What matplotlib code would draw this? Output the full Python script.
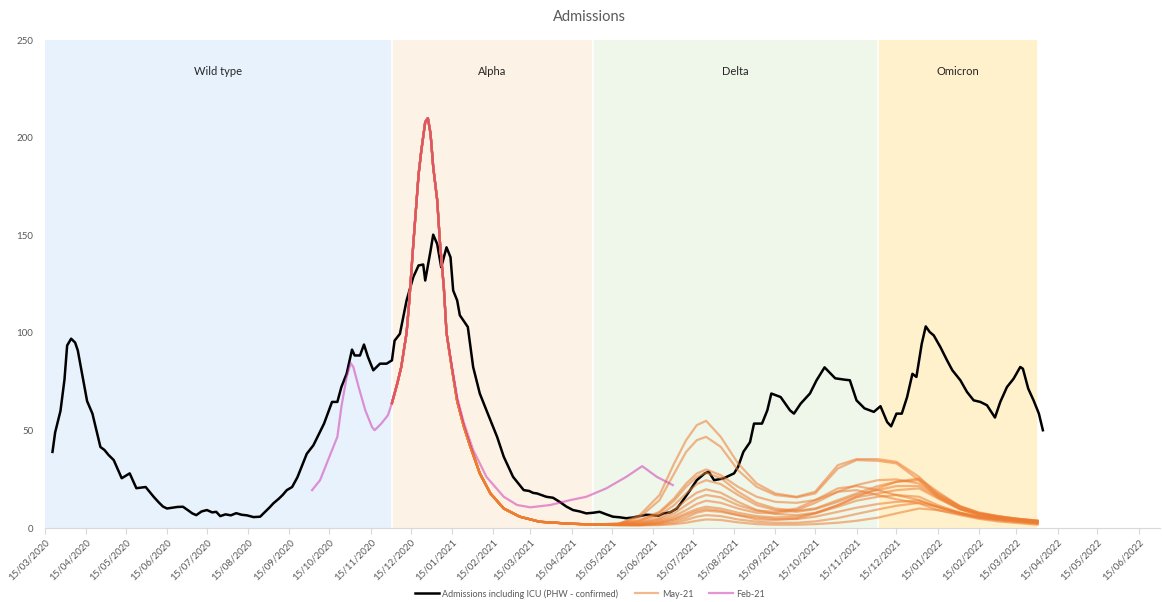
import numpy as np
import pandas as pd
import matplotlib
matplotlib.use('Agg')
import matplotlib.pyplot as plt
from matplotlib.lines import Line2D

plt.rcParams['font.family'] = ['Lato', 'DejaVu Sans']

START = pd.Timestamp('2020-03-15')

# Admissions including ICU (PHW - confirmed), days since 15/03/2020
ADM_DAY = [6, 8, 12, 15, 17, 20, 23, 25, 32, 36, 42, 45, 48, 52, 58, 64, 69, 76, 82, 86, 89, 92,
           97, 100, 104, 108, 111, 114, 118, 122, 126, 129, 132, 136, 140, 144, 148, 152, 157,
           162, 166, 169, 172, 176, 179, 182, 186, 190, 197, 202, 210, 216, 220, 223, 227, 231,
           233, 237, 240, 243, 247, 252, 257, 261, 263, 267, 270, 272, 277, 281, 284.5, 286, 290,
           292, 295, 298, 302, 305, 307, 310, 312, 318, 322, 327, 332, 340, 345, 352, 360, 364,
           367, 370, 377, 382, 387, 392, 397, 402, 407, 412, 417, 422, 427, 432, 437, 442, 447,
           452, 457, 461, 465, 470, 475, 478, 485, 490, 496, 499, 503, 510, 518, 521, 525, 530,
           533, 539, 543, 546, 553, 560, 563, 568, 575, 580, 586, 594, 601, 605, 610, 616, 623,
           628, 633, 636, 640, 644, 648, 652, 655, 659, 662, 665, 668, 673, 678, 682, 688, 693,
           698, 703, 708, 714, 718, 723, 728, 733, 735, 739, 743, 747, 750]
ADM_VAL = [39, 49, 60, 76, 93.5, 97, 95, 91, 65, 58.6, 41.5, 40, 37.5, 34.8, 25.5, 28, 20.4, 21,
           16, 13, 11, 10, 10.5, 10.8, 10.9, 9, 7.5, 6.6, 8.5, 9.2, 8, 8.3, 6.1, 7, 6.5, 7.6,
           6.8, 6.5, 5.6, 5.8, 8.5, 10.5, 12.7, 15, 17, 19.4, 21, 26, 38, 42.4, 53.5, 64.6, 64.6,
           72.2, 79.1, 91.4, 88.4, 88.4, 94, 87.6, 80.8, 84.2, 84.2, 85.9, 96, 99.5, 109.8,
           116.6, 128.5, 134.5, 135, 126.8, 142, 150.3, 145.5, 133.6, 143.8, 138.7, 121.7, 116.6,
           109, 103, 82.5, 68.9, 60.3, 46.7, 36.5, 26.2, 19.4, 19, 18, 17.7, 16, 15.5, 13.4, 11,
           9.2, 8.5, 7.5, 7.8, 8.3, 7, 5.8, 5.5, 5, 5.4, 6.1, 6.8, 6.6, 6.2, 7.5, 8, 10, 12.6,
           19.4, 24.5, 28, 28.8, 24.5, 25.4, 28, 31.3, 39, 44, 53.5, 53.5, 60.3, 68.9, 67.1,
           60.3, 58.6, 63.7, 68.9, 75.7, 82.3, 76.7, 76, 75.7, 65.4, 61.3, 59.5, 62.4, 54.3,
           52.1, 58.6, 58.6, 67.1, 79, 77.4, 94.4, 103.3, 100.4, 98.7, 92.7, 85.9, 80.8, 75.7,
           69.7, 65.4, 64.6, 62.9, 56.6, 64.6, 72.2, 76.5, 82.5, 81.6, 71.4, 65.4, 58.6, 50.1]

# Feb-21 projection
FEB_DAY = [201, 207, 214, 220, 223, 227, 230, 232, 236, 241, 246, 248, 253, 258, 261, 265, 268,
           272, 274, 277, 281, 283, 286, 288, 290, 292, 295, 297, 300, 302, 306, 310, 315, 322,
           332, 345, 355, 365, 380, 395, 407, 422, 437, 449, 460, 472]
FEB_VAL = [19.4, 24.5, 36.5, 46.7, 62, 77.4, 84.5, 82.5, 72.2, 60.3, 51.8, 50.1, 53.5, 57.8,
           64, 74, 82.5, 100, 116, 145, 181, 193, 208, 210, 202, 185, 168, 147, 123, 100, 83,
           67, 54, 40, 26.2, 16, 11.8, 10.6, 11.8, 14.3, 16, 20.3, 26.2, 31.7, 26.2, 22]

# May-21 projections: common fitted section, then one run per scenario
MAY_FIT_DAY = [261, 265, 268, 272, 274, 277, 281, 283, 286, 288, 290, 292, 295, 297, 300, 302,
               306, 310, 315, 320, 327, 335, 345, 357, 372, 395]
MAY_FIT_VAL = [64, 74, 82.5, 100, 116, 145, 181, 193, 208, 210, 202, 185, 168, 147, 123, 100,
               82, 65, 52, 41.5, 28, 17.7, 10, 5.8, 3.2, 2.2]
MAY_RUN_DAY = [412, 431, 447, 462, 473, 482, 490, 497, 508, 521, 535, 549, 565, 579, 596, 610,
               626, 640, 657, 671, 688, 702, 716, 730, 746]
MAY_RUNS = [
    [1.8, 2.0, 6.5, 16.9, 33.1, 45.0, 52.7, 54.9, 46.7, 33.1, 22.8, 17.7, 16.0, 18.6, 32.2, 35.3, 35.3, 33.9, 26.2, 16.9, 10.0, 7.0, 5.6, 4.4, 3.4],
    [1.8, 2.2, 5.5, 14.3, 27.9, 39.0, 45.0, 46.7, 41.6, 29.6, 21.1, 16.9, 15.7, 17.7, 30.5, 34.8, 34.4, 33.1, 24.5, 15.7, 9.5, 6.8, 5.3, 4.1, 3.1],
    [1.8, 2.2, 4.1, 8.3, 15.2, 22.8, 27.9, 30.0, 27.1, 21.1, 16.0, 13.4, 12.9, 14.3, 18.6, 22.0, 24.5, 24.9, 22.8, 16.9, 10.9, 7.6, 6.0, 4.8, 3.6],
    [1.8, 2.2, 3.7, 7.8, 14.0, 21.1, 26.2, 28.3, 25.6, 18.6, 12.9, 10.0, 8.9, 10.0, 14.3, 17.7, 21.5, 23.7, 24.5, 17.7, 11.2, 8.0, 6.2, 4.8, 3.8],
    [1.8, 2.0, 3.2, 6.6, 11.7, 17.7, 22.5, 24.5, 22.5, 16.9, 11.7, 9.2, 8.3, 9.7, 13.4, 16.9, 19.4, 21.5, 21.5, 16.0, 10.0, 7.3, 5.6, 4.6, 3.4],
    [1.8, 1.8, 2.7, 5.0, 9.2, 14.3, 18.1, 19.8, 18.1, 13.4, 9.2, 7.2, 6.6, 7.8, 11.7, 15.7, 17.7, 19.4, 20.3, 15.2, 9.5, 6.8, 5.3, 4.3, 3.1],
    [1.8, 1.8, 2.4, 4.4, 7.5, 11.7, 15.2, 16.9, 15.7, 11.7, 8.9, 8.3, 10.0, 14.3, 20.3, 21.5, 19.4, 16.9, 14.3, 10.6, 7.8, 5.9, 4.8, 4.0, 2.9],
    [1.8, 1.8, 2.0, 3.7, 6.1, 9.2, 12.3, 14.0, 12.9, 10.0, 7.8, 7.5, 9.2, 12.9, 18.6, 19.4, 16.9, 14.7, 12.6, 9.2, 7.2, 5.4, 4.4, 3.6, 2.7],
    [1.8, 1.6, 1.7, 3.1, 5.0, 7.5, 9.7, 10.9, 10.0, 7.8, 6.1, 5.4, 5.8, 7.5, 10.9, 14.0, 16.0, 16.9, 16.0, 11.7, 7.8, 5.9, 4.8, 3.8, 2.7],
    [1.8, 1.6, 1.5, 2.4, 3.7, 5.3, 7.8, 8.9, 8.3, 6.6, 5.3, 4.6, 4.6, 5.8, 8.3, 10.4, 12.3, 13.4, 14.0, 10.9, 7.5, 5.6, 4.4, 3.4, 2.4],
    [1.8, 1.5, 1.4, 1.9, 2.7, 4.1, 5.8, 6.6, 6.1, 4.4, 3.2, 2.7, 2.7, 3.4, 5.1, 7.2, 9.5, 11.4, 12.9, 10.9, 7.2, 5.1, 4.0, 3.1, 2.2],
    [1.8, 1.4, 1.4, 1.5, 2.0, 2.7, 3.7, 4.4, 4.1, 2.9, 2.0, 1.7, 1.7, 2.0, 2.7, 3.7, 5.3, 7.5, 10.0, 9.2, 6.6, 4.7, 3.4, 2.6, 1.7],
    [1.8, 1.6, 1.7, 2.7, 4.4, 6.6, 8.7, 9.7, 8.9, 6.6, 4.4, 4.1, 4.9, 7.5, 11.7, 16.0, 20.3, 23.7, 25.4, 18.6, 10.9, 7.6, 6.0, 4.8, 3.8],
]

# variant periods shaded behind the lines
WAVES = ['Wild type', 'Alpha', 'Delta', 'Omicron']
WAVE_START = ['2020-03-15', '2020-12-01', '2021-05-01', '2021-12-01']
WAVE_END = ['2020-12-01', '2021-05-01', '2021-12-01', '2022-03-31']
WAVE_COLOURS = ['#E8F2FC', '#FDF2E6', '#EFF6EA', '#FFF1CC']

# monthly ticks on the 15th
TICK_DATES = pd.date_range('2020-03-01', '2022-06-01', freq='MS') + pd.Timedelta(days=14)


def to_dates(days):
    return START + pd.to_timedelta(np.asarray(days, dtype=float), unit='D')


fig = plt.figure(figsize=(11.62, 6.02), dpi=100)
ax = fig.add_axes([0.0383, 0.1229, 0.9600, 0.8106])

for name, s, e, c in zip(WAVES, WAVE_START, WAVE_END, WAVE_COLOURS):
    s, e = pd.Timestamp(s), pd.Timestamp(e)
    ax.axvspan(s, e, color=c, lw=0, zorder=0)
    ax.axvline(e, color='white', lw=1.2, zorder=0.5)
    ax.text(s + (e - s) / 2, 234, name, ha='center', va='center', fontsize=8, color='#262626')

orange = '#ED7D31'
pink = '#CD2DAF'

ax.plot(to_dates(ADM_DAY), ADM_VAL, color='black', lw=1.8, zorder=2)
for run in MAY_RUNS:
    ax.plot(to_dates(MAY_FIT_DAY + MAY_RUN_DAY), MAY_FIT_VAL + run,
            color=orange, lw=1.6, alpha=0.55, zorder=3)
ax.plot(to_dates(FEB_DAY), FEB_VAL, color=pink, lw=1.6, alpha=0.5, zorder=4)

ax.set_xlim(START, START + pd.Timedelta(days=838))
ax.set_ylim(0, 250)
ax.set_yticks([0, 50, 100, 150, 200, 250])
ax.set_xticks(TICK_DATES)
ax.set_xticklabels([d.strftime('%d/%m/%Y') for d in TICK_DATES], rotation=45, ha='right',
                   rotation_mode='anchor', fontsize=7, color='#595959')
ax.tick_params(axis='y', length=0, pad=8, labelsize=7, labelcolor='#595959')
ax.tick_params(axis='x', length=4, color='#D9D9D9', pad=3)

for side in ['top', 'right', 'left']:
    ax.spines[side].set_visible(False)
ax.spines['bottom'].set_color('#D9D9D9')

fig.text(0.507, 0.972, 'Admissions', ha='center', va='center', fontsize=10.5, color='#595959')

handles = [Line2D([], [], color='black', lw=1.8),
           Line2D([], [], color=orange, lw=1.6, alpha=0.55),
           Line2D([], [], color=pink, lw=1.6, alpha=0.5)]
labels = ['Admissions including ICU (PHW - confirmed)', 'May-21', 'Feb-21']
fig.legend(handles, labels, loc='center', bbox_to_anchor=(0.508, 0.0135), ncol=3, frameon=False,
           fontsize=6.5, handlelength=2.6, handletextpad=0.4, columnspacing=1.8,
           labelcolor='#595959')

fig.savefig('out.png', dpi=100)
